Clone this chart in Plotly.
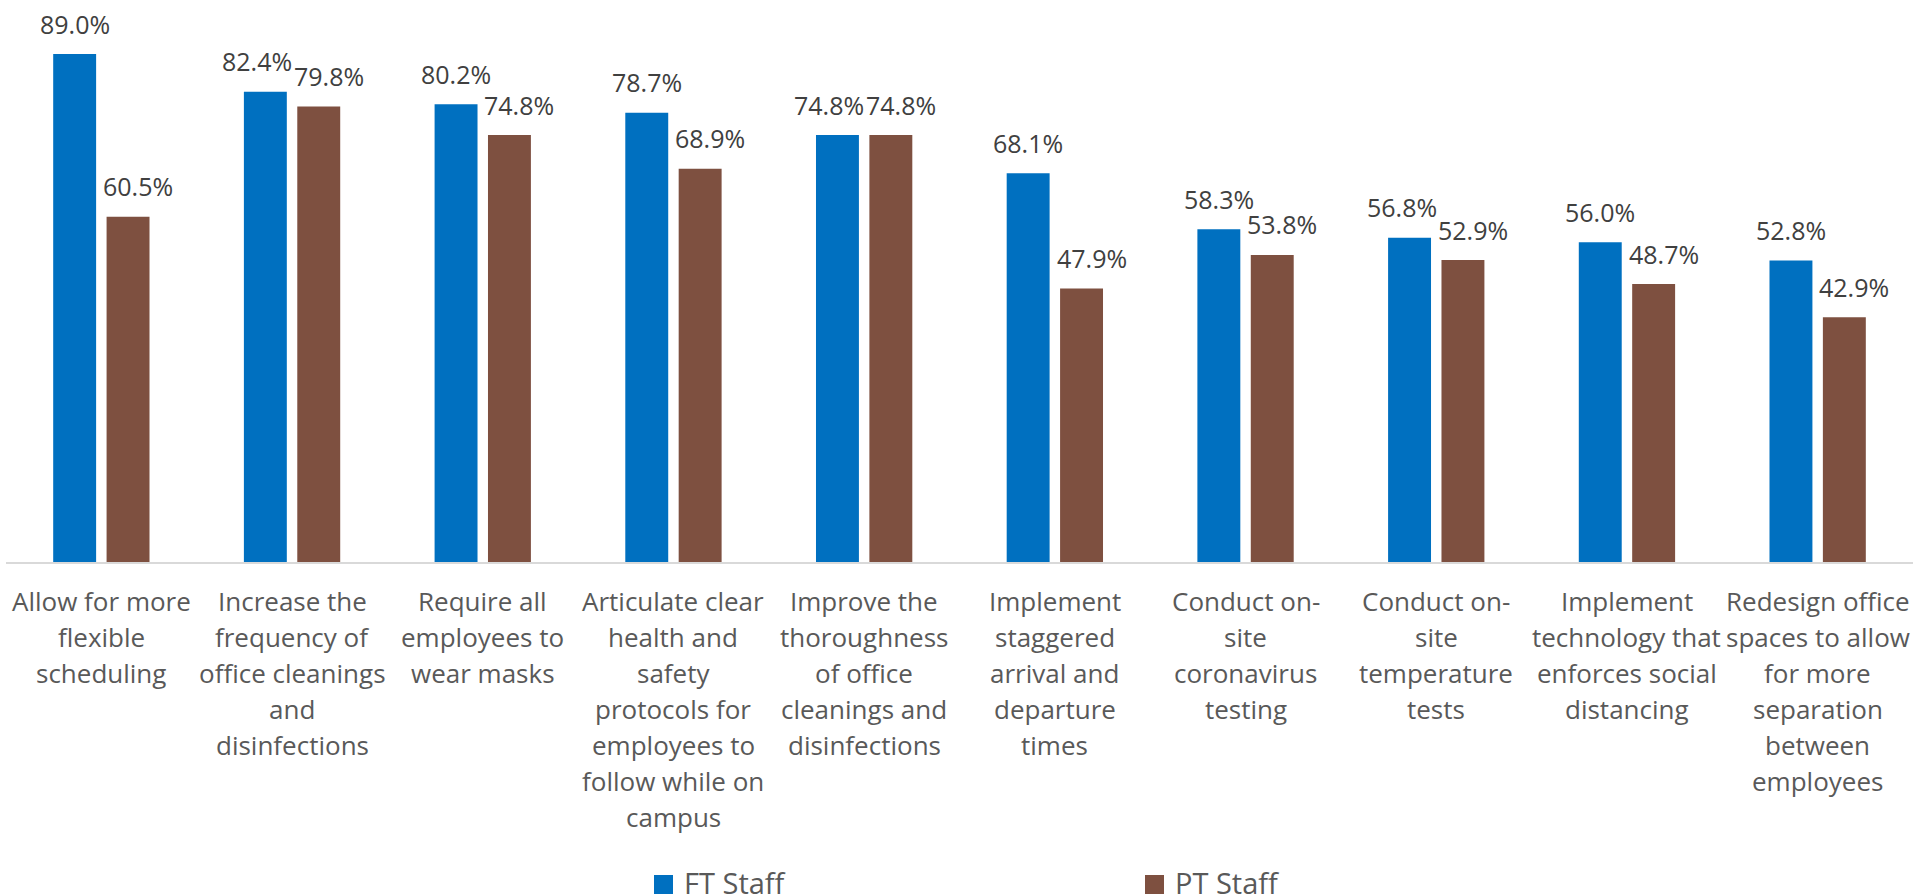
import plotly.graph_objects as go

# ---- data ----
categories = [
    "Allow for more flexible scheduling",
    "Increase the frequency of office cleanings and disinfections",
    "Require all employees to wear masks",
    "Articulate clear health and safety protocols for employees to follow while on campus",
    "Improve the thoroughness of office cleanings and disinfections",
    "Implement staggered arrival and departure times",
    "Conduct on-site coronavirus testing",
    "Conduct on-site temperature tests",
    "Implement technology that enforces social distancing",
    "Redesign office spaces to allow for more separation between employees",
]
tick_labels = [
    "Allow for more\nflexible\nscheduling",
    "Increase the\nfrequency of\noffice cleanings\nand\ndisinfections",
    "Require all\nemployees to\nwear masks",
    "Articulate clear\nhealth and\nsafety\nprotocols for\nemployees to\nfollow while on\ncampus",
    "Improve the\nthoroughness\nof office\ncleanings and\ndisinfections",
    "Implement\nstaggered\narrival and\ndeparture\ntimes",
    "Conduct on-\nsite\ncoronavirus\ntesting",
    "Conduct on-\nsite\ntemperature\ntests",
    "Implement\ntechnology that\nenforces social\ndistancing",
    "Redesign office\nspaces to allow\nfor more\nseparation\nbetween\nemployees",
]
ft_staff = [89.0, 82.4, 80.2, 78.7, 74.8, 68.1, 58.3, 56.8, 56.0, 52.8]
pt_staff = [60.5, 79.8, 74.8, 68.9, 74.8, 47.9, 53.8, 52.9, 48.7, 42.9]
series_names = ["FT Staff", "PT Staff"]

# ---- style ----
W, H = 1913, 895
ML, MR, MT, MB = 6, 0, 0, 333
PLOT_W = W - ML - MR
PLOT_H = H - MT - MB
FT_COLOR = "#0070C0"
PT_COLOR = "#7E5040"
FONT = "Open Sans"
YMAX = 98.46
BARGAP = 0.44

fig = go.Figure()
fig.add_trace(go.Bar(x=categories, y=ft_staff, name=series_names[0],
                     marker=dict(color=FT_COLOR, line=dict(width=0))))
fig.add_trace(go.Bar(x=categories, y=pt_staff, name=series_names[1],
                     marker=dict(color=PT_COLOR, line=dict(width=0))))

half_slot = PLOT_W / len(categories) * (1 - BARGAP) / 4  # px from category center to bar center

annotations = []
# data labels (Excel-like nudging when labels of a pair would collide)
for c, f, p in zip(categories, ft_staff, pt_staff):
    close = abs(f - p) < 4.5
    annotations.append(dict(
        x=c, y=f, xref="x", yref="y", text=f"{f:.1f}%", showarrow=False,
        xanchor="center", yanchor="bottom",
        xshift=-half_slot - (8 if close else 0), yshift=11.5,
        font=dict(family=FONT, size=25, color="#404040")))
    annotations.append(dict(
        x=c, y=p, xref="x", yref="y", text=f"{p:.1f}%", showarrow=False,
        xanchor="center", yanchor="bottom",
        xshift=half_slot + 10, yshift=11.5,
        font=dict(family=FONT, size=25, color="#404040")))

# category labels (line by line, for Excel-like line spacing)
for c, lab in zip(categories, tick_labels):
    for i, line in enumerate(lab.split("\n")):
        annotations.append(dict(
            x=c, y=0, xref="x", yref="paper", text=line, showarrow=False,
            xanchor="center", yanchor="bottom",
            yshift=-(58.6 + 36.0 * i),
            font=dict(family=FONT, size=26, color="#595959")))

def px_x(p):
    return (p - ML) / PLOT_W

def px_y(p):
    return (MT + PLOT_H - p) / PLOT_H

# legend drawn as marks + text
shapes = []
for name, color, mx in ((series_names[0], FT_COLOR, 654), (series_names[1], PT_COLOR, 1145)):
    shapes.append(dict(type="rect", xref="paper", yref="paper",
                       x0=px_x(mx), x1=px_x(mx + 19), y0=px_y(894), y1=px_y(875),
                       fillcolor=color, line=dict(width=0)))
    annotations.append(dict(x=px_x(mx + 28), y=px_y(861), xref="paper", yref="paper",
                            text=name, showarrow=False, xanchor="left", yanchor="top",
                            font=dict(family=FONT, size=29, color="#595959")))

fig.update_layout(
    width=W, height=H,
    margin=dict(l=ML, r=MR, t=MT, b=MB, pad=0),
    paper_bgcolor="white", plot_bgcolor="white",
    barmode="group", bargap=BARGAP, bargroupgap=0.196,
    showlegend=False,
    font=dict(family=FONT, color="#595959"),
    xaxis=dict(showticklabels=False, ticks="", showgrid=False, zeroline=False,
               showline=True, linecolor="#D9D9D9", linewidth=2, fixedrange=True),
    yaxis=dict(range=[0, YMAX], visible=False, showgrid=False, zeroline=False,
               fixedrange=True),
    annotations=annotations, shapes=shapes,
)

fig.write_html("out.html", config={"displayModeBar": False},
               post_script="document.body.style.margin='0';document.body.style.overflow='hidden';")
